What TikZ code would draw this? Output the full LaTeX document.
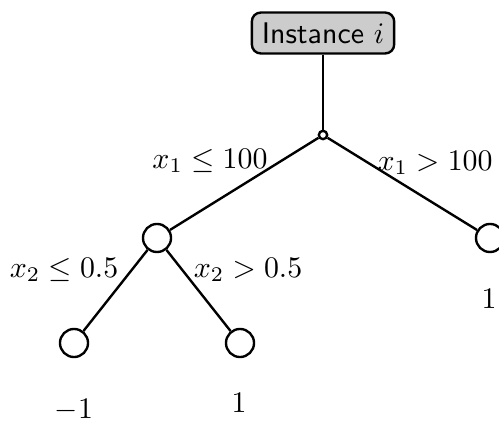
\documentclass[tikz,border=0pt]{standalone}
\begin{document}
\begin{tikzpicture}[x=0.335pt,y=-0.335pt,
  edge/.style={line width=0.8pt},
  inst/.style={draw,line width=0.8pt,rounded corners=3pt,fill=black!20,inner sep=3.33pt,font=\sffamily},
  split/.style={circle,draw,line width=0.8pt,fill=white,minimum size=9.4pt,inner sep=0pt},
  rootpt/.style={circle,draw,line width=0.8pt,fill=white,minimum size=2.8pt,inner sep=0pt},
  lbl/.style={inner sep=0pt}]
\useasboundingbox (0,0) rectangle (499,422);
\node[inst] (inst) at (323,33) {Instance $i$};
\node[rootpt] (root) at (323,135) {};
\node[split] (l) at (157,238) {};
\node[split] (r) at (490,238) {};
\node[split] (ll) at (74,343) {};
\node[split] (lr) at (240,343) {};
\draw[edge] (inst) -- (root);
\draw[edge] (root) -- (l);
\draw[edge] (root) -- (r);
\draw[edge] (l) -- (ll);
\draw[edge] (l) -- (lr);
\node[lbl] (e1) at (210,161) {$x_1 \leq 100$};
\node[lbl] (e2) at (435,163) {$x_1 > 100$};
\node[lbl] (e3) at (64,270) {$x_2 \leq 0.5$};
\node[lbl] (e4) at (248,270) {$x_2 > 0.5$};
\node[lbl] (v1) at (74,410) {$-1$};
\node[lbl] (v2) at (239,403) {$1$};
\node[lbl] (v3) at (489,299) {$1$};
\end{tikzpicture}
\end{document}
